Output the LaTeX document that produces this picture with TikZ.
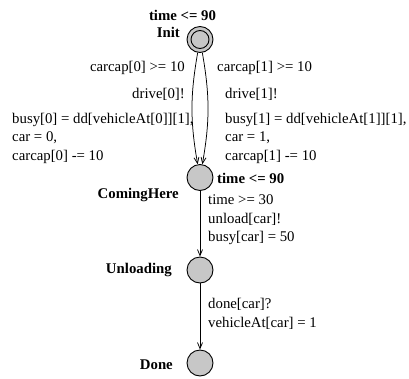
\documentclass[tikz,border=0pt]{standalone}
\usepackage{fontspec}
\setmainfont{Liberation Serif}
\usetikzlibrary{arrows.meta}
\begin{document}
\begin{tikzpicture}[x=1pt,y=-1pt,
  location/.style={circle,draw=black,line width=0.9pt,fill=black!22,minimum size=26pt,inner sep=0pt},
  lbl/.style={inner sep=0pt,font=\fontsize{14.8}{18.5}\selectfont,align=left},
  locname/.style={inner sep=0pt,font=\fontsize{14.8}{18.5}\selectfont\bfseries},
  trans/.style={draw=black,line width=0.75pt,-{Straight Barb[length=6pt,width=5pt,line width=0.75pt]}}]
  \useasboundingbox (0,0) rectangle (409,378);

  % locations
  \node[location] (init) at (200,39.5) {};
  \node[circle,draw=black,line width=0.9pt,minimum size=18pt,inner sep=0pt] (initin) at (init.center) {};
  \node[location] (coming) at (200,177.5) {};
  \node[location] (unload) at (200,270) {};
  \node[location] (done) at (200,363) {};

  % location names and invariants
  \node[locname,anchor=south] (initinv) at (182.5,21) {time <= 90};
  \node[locname,anchor=east] (initname) at (180,32) {Init};
  \node[locname,anchor=east] (comingname) at (179,195) {ComingHere};
  \node[locname,anchor=west] (cominginv) at (217,178) {time <= 90};
  \node[locname,anchor=east] (unloadname) at (172,270) {Unloading};
  \node[locname,anchor=east] (donename) at (173,365) {Done};

  % transitions
  \draw[trans] (init) to[bend right=10] (coming);
  \draw[trans] (init) to[bend left=10] (coming);
  \draw[trans] (coming) -- (unload);
  \draw[trans] (unload) -- (done);

  % transition labels, vehicle 0
  \node[lbl,anchor=east] (g0) at (185,68) {carcap[0] >= 10};
  \node[lbl,anchor=east] (s0) at (185,94) {drive[0]!};
  \node[lbl,anchor=west] (u0) at (12,138) {busy[0] = dd[vehicleAt[0]][1],\\car = 0,\\carcap[0] -= 10};

  % transition labels, vehicle 1
  \node[lbl,anchor=west] (g1) at (217,68) {carcap[1] >= 10};
  \node[lbl,anchor=west] (s1) at (225,94) {drive[1]!};
  \node[lbl,anchor=west] (u1) at (225,138) {busy[1] = dd[vehicleAt[1]][1],\\car = 1,\\carcap[1] -= 10};

  % remaining transitions
  \node[lbl,anchor=west] (lu) at (208,220) {time >= 30\\unload[car]!\\busy[car] = 50};
  \node[lbl,anchor=west] (ld) at (208,314) {done[car]?\\vehicleAt[car] = 1};
\end{tikzpicture}
\end{document}
